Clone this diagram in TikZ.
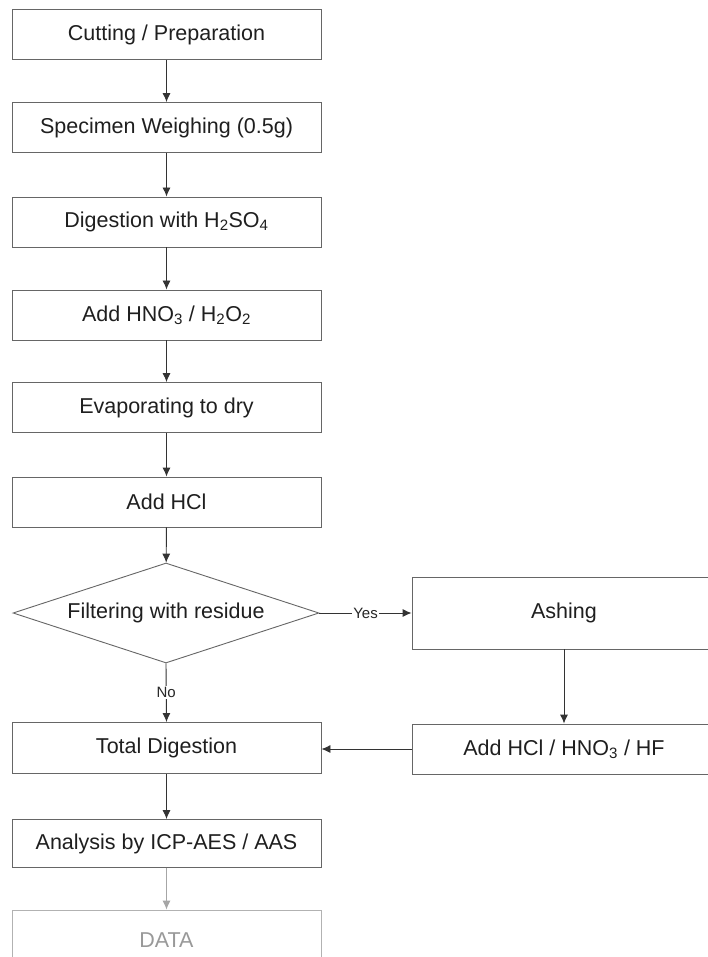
\documentclass[tikz,border=0pt]{standalone}
\usepackage{fontspec}
\setmainfont{Liberation Sans}
\usetikzlibrary{shapes.geometric,arrows.meta}
\begin{document}
\begin{tikzpicture}[x=1pt,y=-1pt,
  box/.style={draw=black!60, line width=0.9pt, minimum width=309pt, minimum height=50pt, inner sep=0pt, font=\fontsize{21.5}{24}\selectfont, text=black!88},
  rbox/.style={box, minimum width=304pt},
  arr/.style={draw=black!80, line width=0.9pt, -{Latex[length=9pt,width=8pt]}},
  lbl/.style={font=\fontsize{15}{17}\selectfont, fill=white, inner sep=1.5pt, text=black!85}]
\clip (0,0) rectangle (708,957);
\fill[white] (0,0) rectangle (708,957);
\node[box] (cut) at (166.5,34.5) {Cutting / Preparation};
\node[box] (weigh) at (166.5,127.5) {Specimen Weighing (0.5g)};
\node[box] (dig) at (166.5,222) {Digestion with H\textsubscript{2}SO\textsubscript{4}};
\node[box] (hno) at (166.5,315) {Add HNO\textsubscript{3} / H\textsubscript{2}O\textsubscript{2}};
\node[box] (evap) at (166.5,407.5) {Evaporating to dry};
\node[box] (hcl) at (166.5,502) {Add HCl};
\node[draw=black!60, line width=0.9pt, diamond, aspect=3.06, minimum width=306pt, minimum height=100pt, inner sep=0pt, font=\fontsize{21.5}{24}\selectfont, text=black!88] (filt) at (166,613) {Filtering with residue};
\node[rbox, minimum height=72pt] (ash) at (564,613) {Ashing};
\node[rbox] (addhf) at (564,749) {Add HCl / HNO\textsubscript{3} / HF};
\node[box, minimum height=51pt] (td) at (166.5,748) {Total Digestion};
\node[box, minimum height=48pt] (ana) at (166.5,843.5) {Analysis by ICP-AES / AAS};
\node[box, draw=black!30, text=black!40, minimum height=60pt] (data) at (166.5,940) {DATA};
\draw[arr] (cut) -- (weigh);
\draw[arr] (weigh) -- (dig);
\draw[arr] (dig) -- (hno);
\draw[arr] (hno) -- (evap);
\draw[arr] (evap) -- (hcl);
\draw[arr] (hcl) -- (filt);
\draw[arr] (filt.east) -- node[lbl]{Yes} (ash.west);
\draw[arr] (filt.south) -- node[lbl]{No} (td.north);
\draw[arr] (ash) -- (addhf);
\draw[arr] (addhf.west) -- (addhf.west -| td.east);
\draw[arr] (td) -- (ana);
\draw[arr, draw=black!35] (ana) -- (data);
\end{tikzpicture}
\end{document}
